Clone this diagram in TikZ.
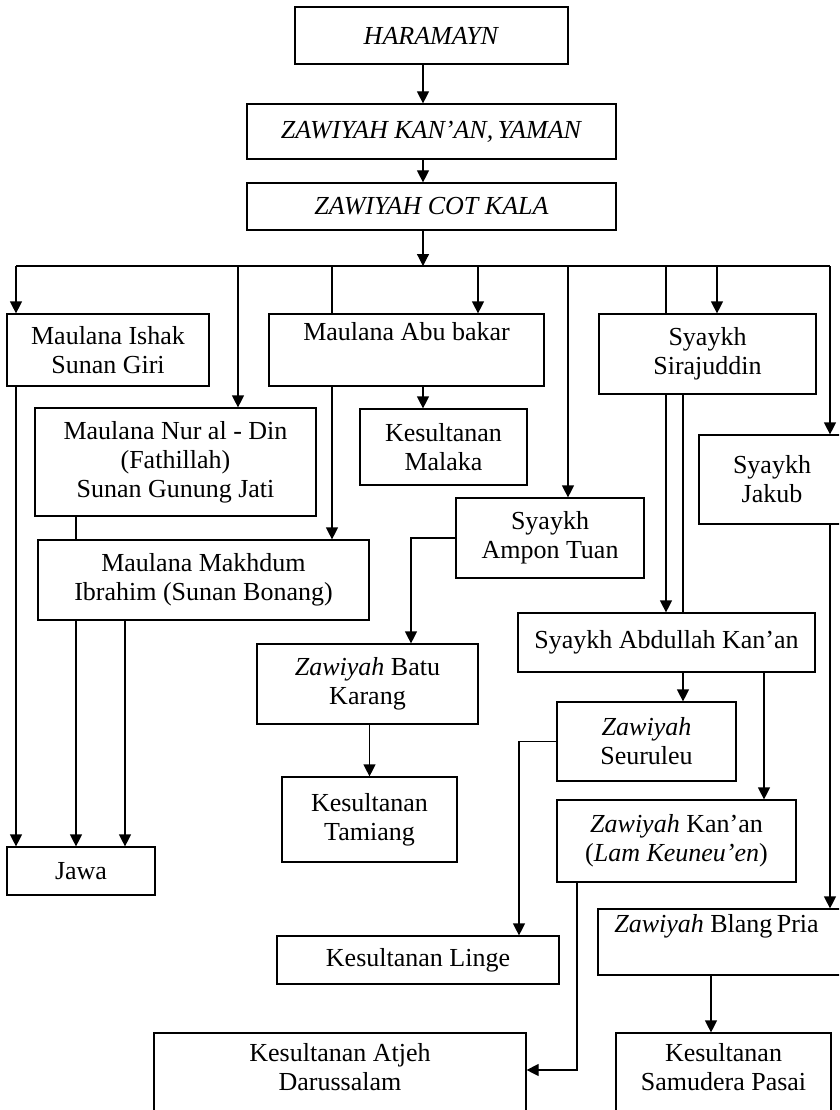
\documentclass[tikz,border=0pt]{standalone}
\usepackage{fontspec}
\setmainfont{Liberation Serif}
\usetikzlibrary{arrows.meta}

\begin{document}
\begin{tikzpicture}[x=1pt,y=-1pt,>={Triangle[width=12pt,length=12pt]},line width=1.2pt,
  kotak/.style={draw,align=center,inner sep=0pt,font=\fontsize{26}{29}\selectfont}]
\useasboundingbox (0,0) rectangle (839,1110);
\clip (0,0) rectangle (839,1110);
\node[kotak,minimum width=273pt,minimum height=57pt] (haramayn) at (431.5,35.5) {\textit{HARAMAYN}};
\node[kotak,minimum width=369pt,minimum height=55pt] (kanyaman) at (431.5,131.5) {\textit{ZAWIYAH KAN’AN,\,YAMAN}};
\node[kotak,minimum width=369pt,minimum height=47pt] (cotkala) at (431.5,206.5) {\textit{ZAWIYAH COT KALA}};
\node[kotak,minimum width=202pt,minimum height=72pt] (ishak) at (108,350) {Maulana Ishak\\Sunan Giri};
\node[kotak,minimum width=275pt,minimum height=72pt] (abubakar) at (406.5,350) {Maulana Abu bakar\\\strut};
\node[kotak,minimum width=217pt,minimum height=80pt] (sirajuddin) at (707.5,354) {Syaykh\\Sirajuddin};
\node[kotak,minimum width=281pt,minimum height=108pt] (nurdin) at (175.5,462) {Maulana Nur al - Din\\(Fathillah)\\Sunan Gunung Jati};
\node[kotak,minimum width=167pt,minimum height=76pt] (malaka) at (443.5,447) {Kesultanan\\Malaka};
\node[kotak,minimum width=146pt,minimum height=89pt] (jakub) at (772,479.5) {Syaykh\\Jakub};
\node[kotak,minimum width=188pt,minimum height=80pt] (ampon) at (550,538) {Syaykh\\Ampon Tuan};
\node[kotak,minimum width=331pt,minimum height=80pt] (makhdum) at (203.5,580) {Maulana Makhdum\\Ibrahim (Sunan Bonang)};
\node[kotak,minimum width=297pt,minimum height=59pt] (abdullah) at (666.5,642.5) {Syaykh Abdullah Kan’an};
\node[kotak,minimum width=221pt,minimum height=80pt] (batu) at (367.5,684) {\textit{Zawiyah} Batu\\Karang};
\node[kotak,minimum width=179pt,minimum height=79pt] (seuruleu) at (646.5,741.5) {\textit{Zawiyah}\\Seuruleu};
\node[kotak,minimum width=175pt,minimum height=85pt] (tamiang) at (369.5,819.5) {Kesultanan\\Tamiang};
\node[kotak,minimum width=239pt,minimum height=82pt] (kanan) at (676.5,841) {\textit{Zawiyah} Kan’an\\(\textit{Lam Keuneu’en})};
\node[kotak,minimum width=148pt,minimum height=48pt] (jawa) at (81,871) {Jawa};
\node[kotak,minimum width=247pt,minimum height=66pt] (blangpria) at (721.5,942) {\textit{Zawiyah} Blang\,Pria\hspace*{10pt}\\\strut};
\node[kotak,minimum width=282pt,minimum height=48pt] (linge) at (418,960) {Kesultanan Linge};
\node[kotak,minimum width=372pt,minimum height=106pt] (atjeh) at (340,1086) {Kesultanan Atjeh\\Darussalam\\\strut};
\node[kotak,minimum width=215pt,minimum height=106pt] (samudera) at (723.5,1086) {Kesultanan\\Samudera Pasai\\\strut};
\coordinate (trunk) at (423,266);
\coordinate (d1) at (16,266);
\coordinate (d2) at (238,266);
\coordinate (d3) at (332,266);
\coordinate (d4) at (478,266);
\coordinate (d5) at (568,266);
\coordinate (d6) at (666,266);
\coordinate (d7) at (717,266);
\coordinate (d8) at (830,266);
\coordinate (m1) at (76,620);
\coordinate (m2) at (125,620);
\coordinate (a1) at (411,540);
\coordinate (s2) at (683,672);
\coordinate (s3) at (764,672);
\coordinate (s4) at (519,737);
\coordinate (s5) at (577,1070);
\coordinate (b1) at (711,975);
\draw[->] (trunk |- haramayn.south) -- (trunk |- kanyaman.north);
\draw[->] (trunk |- kanyaman.south) -- (trunk |- cotkala.north);
\draw[->] (trunk |- cotkala.south) -- (trunk);
\draw (d1) -- (d8);
\draw[->] (d1) -- (d1 |- ishak.north);
\draw[->] (d2) -- (d2 |- nurdin.north);
\draw (d3) -- (d3 |- abubakar.north);
\draw[->] (d4) -- (d4 |- abubakar.north);
\draw[->] (d5) -- (d5 |- ampon.north);
\draw (d6) -- (d6 |- sirajuddin.north);
\draw[->] (d7) -- (d7 |- sirajuddin.north);
\draw[->] (d8) -- (d8 |- jakub.north);
\draw[->] (d1 |- ishak.south) -- (d1 |- jawa.north);
\draw[->] (trunk |- abubakar.south) -- (trunk |- malaka.north);
\draw[->] (d3 |- abubakar.south) -- (d3 |- makhdum.north);
\draw (m1 |- nurdin.south) -- (m1 |- makhdum.north);
\draw[->] (m1 |- makhdum.south) -- (m1 |- jawa.north);
\draw[->] (m2 |- makhdum.south) -- (m2 |- jawa.north);
\draw[->] (ampon.west) -| (a1 |- batu.north);
\draw[->] (tamiang.north |- batu.south) -- (tamiang.north);
\draw[->] (d6 |- sirajuddin.south) -- (d6 |- abdullah.north);
\draw (s2 |- sirajuddin.south) -- (s2 |- abdullah.north);
\draw[->] (s2 |- abdullah.south) -- (s2 |- seuruleu.north);
\draw[->] (s3 |- abdullah.south) -- (s3 |- kanan.north);
\draw[->] (d8 |- jakub.south) -- (d8 |- blangpria.north);
\draw[->] (seuruleu.west) -| (s4 |- linge.north);
\draw[->] (s5 |- kanan.south) -- (s5) -- (s5 -| atjeh.east);
\draw[->] (b1 |- blangpria.south) -- (b1 |- samudera.north);
\end{tikzpicture}
\end{document}
